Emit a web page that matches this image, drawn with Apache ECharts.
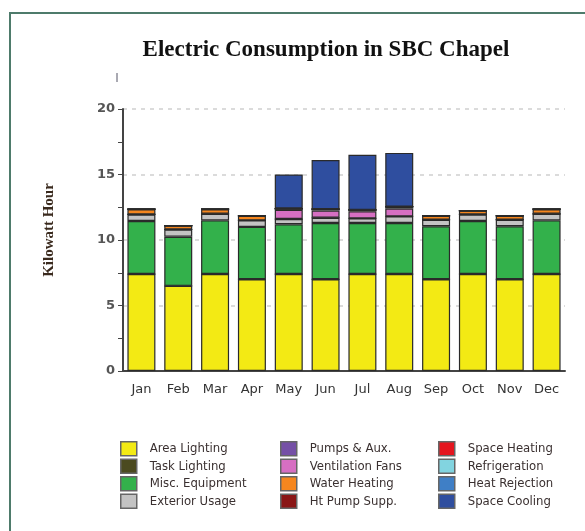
<!DOCTYPE html>
<html>
<head>
<meta charset="utf-8">
<title>Electric Consumption in SBC Chapel</title>
<script src="https://cdn.jsdelivr.net/npm/echarts@6/dist/echarts.min.js"></script>
<style>
  html, body { margin: 0; padding: 0; background: #fff; }
  #chart { width: 585px; height: 531px; }
</style>
</head>
<body>
<div id="chart"></div>
<script>
// ---- data (kWh per month) ----
const months = ['Jan', 'Feb', 'Mar', 'Apr', 'May', 'Jun', 'Jul', 'Aug', 'Sep', 'Oct', 'Nov', 'Dec'];
const yTicks = [0, 5, 10, 15, 20];

const areaLighting   = [7.4, 6.5, 7.4, 7.0, 7.4, 7.0, 7.4, 7.4, 7.0, 7.4, 7.0, 7.4];
const taskLighting   = [0, 0, 0, 0, 0, 0, 0, 0, 0, 0, 0, 0];
const miscEquipment  = [4.05, 3.75, 4.1, 4.0, 3.8, 4.3, 3.9, 3.9, 4.05, 4.05, 4.05, 4.1];
const exteriorUsage  = [0.5, 0.55, 0.5, 0.5, 0.4, 0.4, 0.35, 0.5, 0.5, 0.5, 0.5, 0.5];
const pumpsAux       = [0, 0, 0, 0, 0, 0, 0, 0, 0, 0, 0, 0];
const ventFans       = [0, 0, 0, 0, 0.7, 0.55, 0.55, 0.6, 0, 0, 0, 0];
const waterHeating   = [0.4, 0.3, 0.35, 0.35, 0.1, 0.1, 0.1, 0.15, 0.3, 0.3, 0.3, 0.35];
const htPumpSupp     = [0, 0, 0, 0, 0, 0, 0, 0, 0, 0, 0, 0];
const spaceHeating   = [0, 0, 0, 0, 0, 0, 0, 0, 0, 0, 0, 0];
const refrigeration  = [0, 0, 0, 0, 0, 0, 0, 0, 0, 0, 0, 0];
const heatRejection  = [0, 0, 0, 0, 0, 0, 0, 0, 0, 0, 0, 0];
const spaceCooling   = [0, 0, 0, 0, 2.6, 3.75, 4.2, 4.1, 0, 0, 0, 0];

const seriesDefs = [
    ['Area Lighting', areaLighting, '#f3ea14'],
    ['Task Lighting', taskLighting, '#4b4a1f'],
    ['Misc. Equipment', miscEquipment, '#33b14b'],
    ['Exterior Usage', exteriorUsage, '#c3c3c3'],
    ['Pumps & Aux.', pumpsAux, '#7550a6'],
    ['Ventilation Fans', ventFans, '#d66fc2'],
    ['Water Heating', waterHeating, '#f5861e'],
    ['Ht Pump Supp.', htPumpSupp, '#8a1616'],
    ['Space Heating', spaceHeating, '#e5161f'],
    ['Refrigeration', refrigeration, '#82d4e0'],
    ['Heat Rejection', heatRejection, '#3f7fc6'],
    ['Space Cooling', spaceCooling, '#2f4e9f']
];

// ==================== Chart ====================
const chart = echarts.init(document.getElementById('chart'));

const legendFont = { fontFamily: 'DejaVu Sans Condensed', fontSize: 13, color: '#3a3030', padding: [0, 0, 0, 8] };
function legendColumn(names, left) {
    return {
        data: names, orient: 'vertical', left: left, top: 436,
        icon: 'rect', itemWidth: 16, itemHeight: 14, itemGap: 2,
        textStyle: legendFont, selectedMode: false,
        itemStyle: { borderColor: '#666', borderWidth: 1.5 }
    };
}

chart.setOption({
    animation: false,
    title: {
        text: 'Electric Consumption in SBC Chapel',
        left: 321, top: 34, textAlign: 'center',
        textStyle: { fontFamily: 'Liberation Serif', fontWeight: 'bold', fontSize: 23, color: '#111' }
    },
    graphic: [
        { type: 'rect', shape: { x: 10, y: 13, width: 620, height: 620 },
          style: { fill: 'none', stroke: '#4e7b6b', lineWidth: 2 } },
        { type: 'line', shape: { x1: 117, y1: 73, x2: 117, y2: 82 },
          style: { stroke: '#556', lineWidth: 1 } }
    ],
    legend: [
        legendColumn(seriesDefs.slice(0, 4).map(d => d[0]), 115),
        legendColumn(seriesDefs.slice(4, 8).map(d => d[0]), 275),
        legendColumn(seriesDefs.slice(8, 12).map(d => d[0]), 433)
    ],
    grid: { left: 123, right: 20, top: 109, bottom: 160 },
    xAxis: {
        type: 'category',
        data: months,
        axisLine: { lineStyle: { color: '#444', width: 2 } },
        axisTick: { alignWithLabel: true, length: 4, lineStyle: { color: '#555' } },
        axisLabel: { fontFamily: 'DejaVu Sans', fontSize: 13, color: '#333', margin: 12 }
    },
    yAxis: {
        type: 'value',
        min: yTicks[0], max: yTicks[yTicks.length - 1], interval: 5,
        name: 'Kilowatt Hour',
        nameLocation: 'middle', nameGap: 66, nameRotate: 90,
        nameTextStyle: { fontFamily: 'Liberation Serif', fontWeight: 'bold', fontSize: 15, color: '#3a2a1e', padding: [0, 0, 0, 20] },
        axisLine: { show: true, lineStyle: { color: '#444', width: 2 } },
        axisTick: { show: true, length: 5, lineStyle: { color: '#444' } },
        minorTick: { show: true, splitNumber: 2, length: 5, lineStyle: { color: '#444' } },
        axisLabel: { fontFamily: 'DejaVu Sans', fontWeight: 'bold', fontSize: 13, color: '#555', margin: 8 },
        splitLine: { show: true, lineStyle: { color: '#cfcfcf', type: [4, 5], width: 1.5 } }
    },
    series: seriesDefs.map(([name, values, color]) => ({
        name: name,
        type: 'bar',
        stack: 'total',
        data: values,
        barCategoryGap: '24%',
        itemStyle: { color: color, borderColor: '#2a2a2a', borderWidth: 1.2 }
    }))
});
</script>
</body>
</html>
